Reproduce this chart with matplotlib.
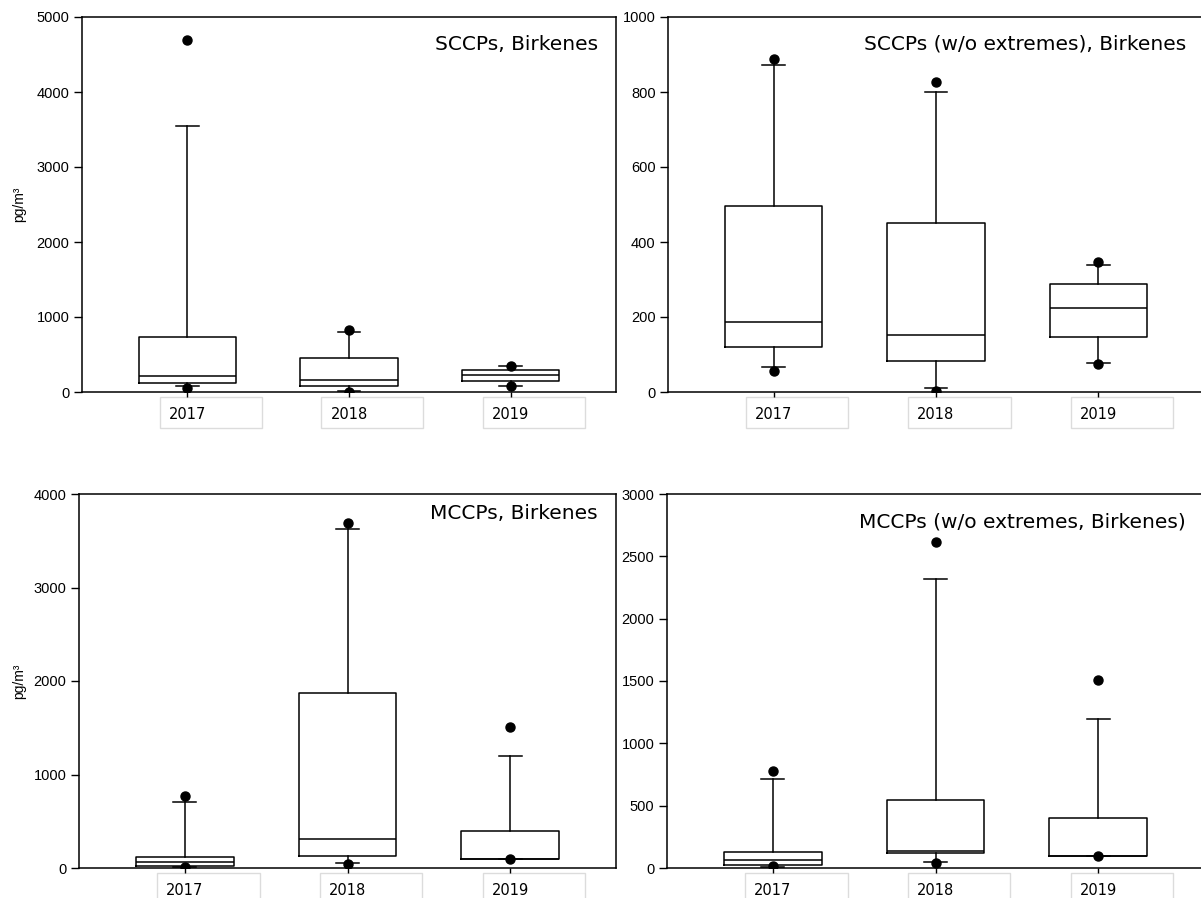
import matplotlib.pyplot as plt
import matplotlib.transforms as mtransforms
from matplotlib.patches import Rectangle

years = ['2017', '2018', '2019']

# SCCPs, Birkenes (all data)
sccp_q1 = [120, 84, 145]
sccp_med = [208, 155, 222]
sccp_q3 = [733, 450, 288]
sccp_lo = [75, 10, 78]
sccp_hi = [3550, 800, 342]
sccp_dots = [[60, 4700], [5, 830], [75, 350]]

# SCCPs without extremes
sccp2_q1 = [120, 83, 147]
sccp2_med = [188, 153, 223]
sccp2_q3 = [497, 450, 288]
sccp2_lo = [68, 11, 78]
sccp2_hi = [871, 799, 340]
sccp2_dots = [[57, 888], [4, 828], [75, 348]]

# MCCPs, Birkenes
mccp_q1 = [21, 128, 96]
mccp_med = [68, 310, 96]
mccp_q3 = [118, 1877, 395]
mccp_lo = [10, 50, 96]
mccp_hi = [705, 3622, 1197]
mccp_dots = [[11, 773], [39, 3687], [96, 1507]]

# MCCPs without extremes
mccp2_q1 = [21, 124, 96]
mccp2_med = [67, 134, 96]
mccp2_q3 = [126, 542, 398]
mccp2_lo = [10, 45, 96]
mccp2_hi = [713, 2319, 1196]
mccp2_dots = [[13, 777], [40, 2616], [96, 1509]]

titles = ['SCCPs, Birkenes', 'SCCPs (w/o extremes), Birkenes',
          'MCCPs, Birkenes', 'MCCPs (w/o extremes, Birkenes)']
ymax = [5000, 1000, 4000, 3000]
ystep = [1000, 200, 1000, 500]

panels = [
    (sccp_q1, sccp_med, sccp_q3, sccp_lo, sccp_hi, sccp_dots),
    (sccp2_q1, sccp2_med, sccp2_q3, sccp2_lo, sccp2_hi, sccp2_dots),
    (mccp_q1, mccp_med, mccp_q3, mccp_lo, mccp_hi, mccp_dots),
    (mccp2_q1, mccp2_med, mccp2_q3, mccp2_lo, mccp2_hi, mccp2_dots),
]

W, H = 1201, 898
fig = plt.figure(figsize=(W / 100, H / 100), dpi=100)

# axes rectangles in pixels: left, top, right, bottom
boxes_px = [(82, 17, 616, 392), (668, 17, 1204, 392),
            (79, 494, 616, 868), (667, 494, 1204, 868)]
title_base_px = [33, 33, 25, 34]

pos = [1, 2, 3]
line = dict(color='black', linewidth=1.1)

for i, (q1, med, q3, lo, hi, dots) in enumerate(panels):
    l, t, r, b = boxes_px[i]
    ax = fig.add_axes([l / W, (H - b) / H, (r - l) / W, (b - t) / H])

    stats = []
    for k in range(3):
        stats.append({'q1': q1[k], 'med': med[k], 'q3': q3[k],
                      'whislo': lo[k], 'whishi': hi[k], 'fliers': dots[k]})
    ax.bxp(stats, positions=pos, widths=0.6, capwidths=0.14,
           boxprops=line, medianprops=line, whiskerprops=line, capprops=line,
           flierprops=dict(marker='o', markerfacecolor='black',
                           markeredgecolor='black', markersize=6.5))

    ax.set_xlim(0.35, 3.65)
    ax.set_ylim(0, ymax[i])
    ax.set_yticks(range(0, ymax[i] + 1, ystep[i]))
    ax.set_xticks(pos)
    ax.set_xticklabels(years, fontsize=10.5, family='DejaVu Sans')
    for lab in ax.get_yticklabels():
        lab.set_family('Liberation Sans')
        lab.set_fontsize(10.5)
    ax.tick_params(axis='y', direction='out', length=6, width=1, pad=3)
    ax.tick_params(axis='x', direction='out', length=3.5, width=1, pad=7)
    for sp in ax.spines.values():
        sp.set_linewidth(1.1)

    # light grey frames behind the year labels
    hpx = b - t
    trans = mtransforms.blended_transform_factory(ax.transData, ax.transAxes)
    for p in pos:
        ax.add_patch(Rectangle((p - 0.17, -36 / hpx), 0.63, 31 / hpx,
                               transform=trans, clip_on=False,
                               facecolor='none', edgecolor='#dcdcdc', lw=1))

    ax.annotate(titles[i], xy=(1, 1), xycoords='axes fraction',
                xytext=(-18 * 0.72, -title_base_px[i] * 0.72),
                textcoords='offset points', ha='right', va='baseline',
                fontsize=14.5, family='DejaVu Sans')

    if i % 2 == 0:
        fig.text(19 / W, 1 - (t + b) / 2 / H, 'pg/m³', rotation=90,
                 ha='center', va='center', fontsize=10, family='Liberation Sans')

fig.savefig('out.png', dpi=100)
